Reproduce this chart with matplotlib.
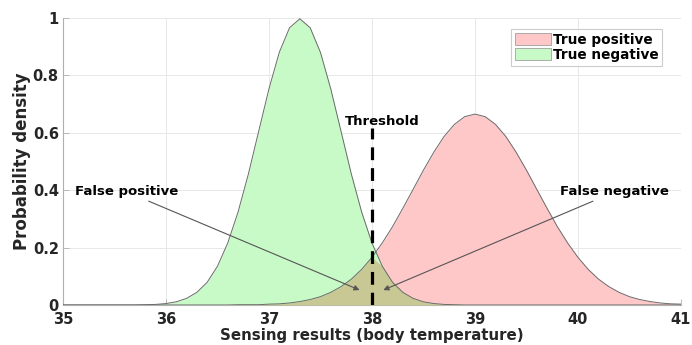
import numpy as np
import matplotlib
matplotlib.use("Agg")
import matplotlib.pyplot as plt

# Temperature grid (0.1 degree steps from 35 to 41)
temp = np.round(np.linspace(35.0, 41.0, 61), 1)

# Density of healthy readings (true negative), 35.0 ... 41.0
dens_neg = [0.000, 0.000, 0.000, 0.000, 0.000, 0.000, 0.000, 0.000, 0.001, 0.002,
            0.005, 0.011, 0.023, 0.044, 0.079, 0.135, 0.216, 0.324, 0.456, 0.605,
            0.753, 0.880, 0.966, 0.997, 0.966, 0.880, 0.753, 0.605, 0.456, 0.324,
            0.216, 0.135, 0.079, 0.044, 0.023, 0.011, 0.005, 0.002, 0.001, 0.000,
            0.000, 0.000, 0.000, 0.000, 0.000, 0.000, 0.000, 0.000, 0.000, 0.000,
            0.000, 0.000, 0.000, 0.000, 0.000, 0.000, 0.000, 0.000, 0.000, 0.000,
            0.000]

# Density of fever readings (true positive), 35.0 ... 41.0
dens_pos = [0.000, 0.000, 0.000, 0.000, 0.000, 0.000, 0.000, 0.000, 0.000, 0.000,
            0.000, 0.000, 0.000, 0.000, 0.000, 0.000, 0.000, 0.001, 0.001, 0.001,
            0.003, 0.004, 0.007, 0.012, 0.019, 0.029, 0.044, 0.064, 0.090, 0.124,
            0.166, 0.216, 0.273, 0.337, 0.403, 0.470, 0.532, 0.587, 0.629, 0.656,
            0.665, 0.656, 0.629, 0.587, 0.532, 0.470, 0.403, 0.337, 0.273, 0.216,
            0.166, 0.124, 0.090, 0.064, 0.044, 0.029, 0.019, 0.012, 0.007, 0.004,
            0.003]

threshold = 38.0
dens_neg = np.array(dens_neg)
dens_pos = np.array(dens_pos)
overlap = np.minimum(dens_neg, dens_pos)

plt.rcParams['font.family'] = 'DejaVu Sans'
plt.rcParams['font.weight'] = 'bold'

fig = plt.figure(figsize=(6.92, 3.45), dpi=100)
ax = fig.add_axes([0.091, 0.116, 0.893, 0.832])

edge = '#6a6a6a'
ax.fill_between(temp, dens_pos, color='#ffc8c8', lw=0, label='True positive', zorder=2)
ax.fill_between(temp, dens_neg, color='#c8fac8', lw=0, label='True negative', zorder=2)
ax.fill_between(temp, overlap, color='#c8c895', lw=0, zorder=3)
ax.plot(temp, dens_pos, color=edge, lw=0.7, zorder=4)
ax.plot(temp, dens_neg, color=edge, lw=0.7, zorder=4)

# decision threshold
ax.plot([threshold, threshold], [0, 0.615], color='black', lw=2.3,
        linestyle=(0, (4, 2.5)), zorder=5)
ax.text(threshold + 0.1, 0.638, 'Threshold', ha='center', va='center',
        fontsize=9.5, fontweight='bold')

arrow = dict(arrowstyle='-|>', color='#555555', lw=0.8,
             mutation_scale=8, shrinkA=0, shrinkB=0)
ax.annotate('False positive', xy=(37.88, 0.052), xytext=(36.12, 0.394),
            ha='right', va='center', fontsize=9.5, fontweight='bold',
            arrowprops=arrow, zorder=6)
ax.annotate('False negative', xy=(38.11, 0.052), xytext=(39.83, 0.394),
            ha='left', va='center', fontsize=9.5, fontweight='bold',
            arrowprops=arrow, zorder=6)

ax.set_xlim(35, 41)
ax.set_ylim(0, 1)
ax.set_xticks([35, 36, 37, 38, 39, 40, 41])
ax.set_yticks([0, 0.2, 0.4, 0.6, 0.8, 1])
ax.set_yticklabels(['0', '0.2', '0.4', '0.6', '0.8', '1'])
ax.tick_params(direction='in', length=4, width=0.6, colors='#b0b0b0',
               labelcolor='#262626', labelsize=10.5)
ax.tick_params(axis='x', pad=5)
ax.tick_params(axis='y', pad=3)
for lab in ax.get_xticklabels() + ax.get_yticklabels():
    lab.set_fontweight('bold')
ax.grid(True, color='#e8e8e8', lw=0.7, zorder=0)
ax.set_axisbelow(True)
for side in ['top', 'right']:
    ax.spines[side].set_visible(False)
for side in ['left', 'bottom']:
    ax.spines[side].set_color('#b0b0b0')
    ax.spines[side].set_linewidth(0.8)

ax.set_xlabel('Sensing results (body temperature)', fontsize=10.8,
              fontweight='bold', color='#262626', labelpad=1)
ax.set_ylabel('Probability density', fontsize=12, fontweight='bold',
              color='#262626', labelpad=1)

leg = ax.legend(loc='upper right', bbox_to_anchor=(0.97, 0.962), fontsize=9.8,
                frameon=True, fancybox=False, edgecolor='#c0c0c0',
                handlelength=2.6, handleheight=1.0, handletextpad=0.15,
                borderpad=0.3, labelspacing=0.05, borderaxespad=0)
leg.get_frame().set_linewidth(0.8)
for h in leg.legend_handles:
    h.set_edgecolor('#a0a0a0')
    h.set_linewidth(0.6)
for t in leg.get_texts():
    t.set_fontweight('bold')

fig.savefig('out.png', dpi=100)
